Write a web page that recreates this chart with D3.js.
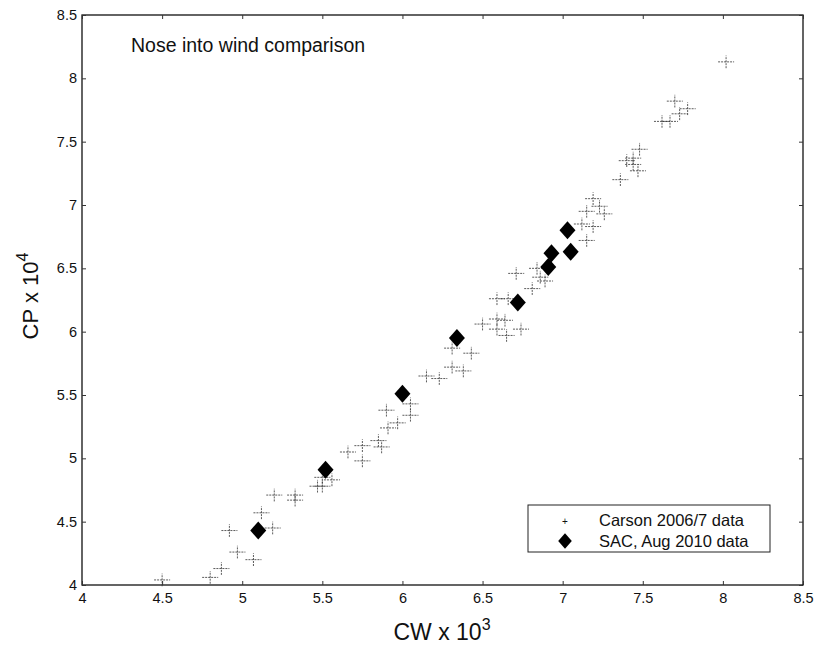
<!DOCTYPE html>
<html lang="en">
<head>
  <meta charset="UTF-8">
  <title>Nose into wind comparison</title>
  <style>
    html, body { margin: 0; background: #fff; }
    svg { display: block; }
    text { font-family: "Liberation Sans", Arial, sans-serif; fill: #111; }
  </style>
</head>
<body>
  <script src="https://d3js.org/d3.v7.min.js"></script>
  <script>
    // Carson 2006/7 data (CW x 10^3, CP x 10^4)
    const carsonCW = [4.50, 4.80, 4.87, 4.92, 5.07, 4.97, 5.12, 5.19, 5.20, 5.33, 5.33, 5.47, 5.50, 5.56, 5.50,
      5.66, 5.75, 5.75, 5.85, 5.87, 5.91, 5.97, 5.90, 6.05, 6.05, 6.15, 6.23, 6.31, 6.38, 6.43, 6.31,
      6.50, 6.59, 6.65, 6.64, 6.59, 6.74, 6.59, 6.66, 6.81, 6.71, 6.86, 6.89, 6.84, 7.12, 7.19, 7.15,
      7.23, 7.19, 7.26, 7.15, 7.44, 7.44, 7.47, 7.48, 7.40, 7.36, 7.62, 7.67, 7.70, 7.78, 7.73, 8.02];
    const carsonCP = [4.04, 4.06, 4.13, 4.43, 4.20, 4.26, 4.57, 4.45, 4.71, 4.71, 4.67, 4.78, 4.78, 4.83, 4.85,
      5.05, 4.98, 5.10, 5.14, 5.09, 5.24, 5.28, 5.38, 5.34, 5.43, 5.65, 5.63, 5.72, 5.69, 5.83, 5.87,
      6.06, 6.02, 5.97, 6.09, 6.10, 6.02, 6.26, 6.26, 6.34, 6.46, 6.43, 6.40, 6.50, 6.85, 6.83, 6.72,
      6.99, 7.05, 6.93, 6.95, 7.37, 7.32, 7.27, 7.44, 7.35, 7.20, 7.66, 7.66, 7.82, 7.76, 7.72, 8.13];

    // SAC, Aug 2010 data
    const sacCW = [5.10, 5.52, 6.00, 6.34, 6.72, 6.91, 6.93, 7.05, 7.03];
    const sacCP = [4.43, 4.91, 5.51, 5.95, 6.23, 6.51, 6.62, 6.63, 6.80];

    const xTicks = [4, 4.5, 5, 5.5, 6, 6.5, 7, 7.5, 8, 8.5];
    const yTicks = [4, 4.5, 5, 5.5, 6, 6.5, 7, 7.5, 8, 8.5];
    const legendLabels = ["Carson 2006/7 data", "SAC, Aug 2010 data"];

    const W = 817, H = 650;
    const plotL = 82, plotR = 803, plotT = 15, plotB = 585;

    const svg = d3.select("body").append("svg")
      .attr("width", W)
      .attr("height", H);

    const x = d3.scaleLinear().domain([4, 8.5]).range([plotL, plotR]);
    const y = d3.scaleLinear().domain([4, 8.5]).range([plotB, plotT]);

    // frame
    svg.append("rect")
      .attr("x", plotL).attr("y", plotT)
      .attr("width", plotR - plotL).attr("height", plotB - plotT)
      .attr("fill", "none").attr("stroke", "#111").attr("stroke-width", 1.3);

    const fmt = d => String(d);

    // axes with inward ticks
    svg.append("g")
      .attr("transform", `translate(0,${plotB})`)
      .call(d3.axisBottom(x).tickValues(xTicks).tickFormat(fmt).tickSize(-4).tickPadding(8));
    svg.append("g")
      .attr("transform", `translate(0,${plotT})`)
      .call(d3.axisTop(x).tickValues(xTicks).tickFormat("").tickSize(-4));
    svg.append("g")
      .attr("transform", `translate(${plotL},0)`)
      .call(d3.axisLeft(y).tickValues(yTicks).tickFormat(fmt).tickSize(-4).tickPadding(5));
    svg.append("g")
      .attr("transform", `translate(${plotR},0)`)
      .call(d3.axisRight(y).tickValues(yTicks).tickFormat("").tickSize(-4));

    svg.selectAll(".domain").remove();
    svg.selectAll(".tick line").attr("stroke", "#333");
    svg.selectAll(".tick text").style("font-size", "14.5px").attr("fill", "#111");

    // Carson data: small error crosses
    const carson = carsonCW.map((d, i) => ({ cw: d, cp: carsonCP[i] }));
    const ex = 0.05, ey = 0.05;
    const cg = svg.append("g").attr("stroke", "#333").attr("stroke-width", 1).attr("stroke-opacity", 0.8);
    cg.selectAll("line.h").data(carson).join("line")
      .attr("class", "h")
      .attr("x1", d => x(d.cw - ex)).attr("x2", d => x(d.cw + ex))
      .attr("y1", d => y(d.cp)).attr("y2", d => y(d.cp))
      .attr("stroke-dasharray", "2 1");
    cg.selectAll("line.v").data(carson).join("line")
      .attr("class", "v")
      .attr("x1", d => x(d.cw)).attr("x2", d => x(d.cw))
      .attr("y1", d => y(d.cp - ey)).attr("y2", d => y(d.cp + ey))
      .attr("stroke-dasharray", "2 1");

    // SAC data: diamonds
    const sac = sacCW.map((d, i) => ({ cw: d, cp: sacCP[i] }));
    const diamond = "M0,-9L8,0L0,9L-8,0Z";
    svg.append("g").selectAll("path").data(sac).join("path")
      .attr("d", diamond)
      .attr("transform", d => `translate(${x(d.cw)},${y(d.cp)})`)
      .attr("fill", "#000");

    // title inside plot
    svg.append("text")
      .attr("x", 131).attr("y", 52)
      .style("font-size", "19.5px")
      .text("Nose into wind comparison");

    // axis labels
    const xl = svg.append("text")
      .attr("x", 442).attr("y", 640)
      .attr("text-anchor", "middle")
      .style("font-size", "23px");
    xl.append("tspan").text("CW x 10");
    xl.append("tspan").attr("dy", -10).style("font-size", "16px").text("3");

    const yl = svg.append("text")
      .attr("transform", "translate(38,296) rotate(-90)")
      .attr("text-anchor", "middle")
      .style("font-size", "22px");
    yl.append("tspan").text("CP x 10");
    yl.append("tspan").attr("dy", -10).style("font-size", "16px").text("4");

    // legend
    const lg = svg.append("g");
    lg.append("rect")
      .attr("x", 528).attr("y", 505).attr("width", 242).attr("height", 47)
      .attr("fill", "#fff").attr("stroke", "#222").attr("stroke-width", 1);
    lg.append("text").attr("x", 565).attr("y", 525)
      .attr("text-anchor", "middle").style("font-size", "10px").attr("fill", "#777").text("+");
    lg.append("path").attr("d", diamond)
      .attr("transform", "translate(565,541) scale(0.85)").attr("fill", "#000");
    lg.selectAll("text.lab").data(legendLabels).join("text")
      .attr("class", "lab")
      .attr("x", 599).attr("y", (d, i) => 526 + i * 21)
      .style("font-size", "16.5px")
      .text(d => d);
  </script>
</body>
</html>
